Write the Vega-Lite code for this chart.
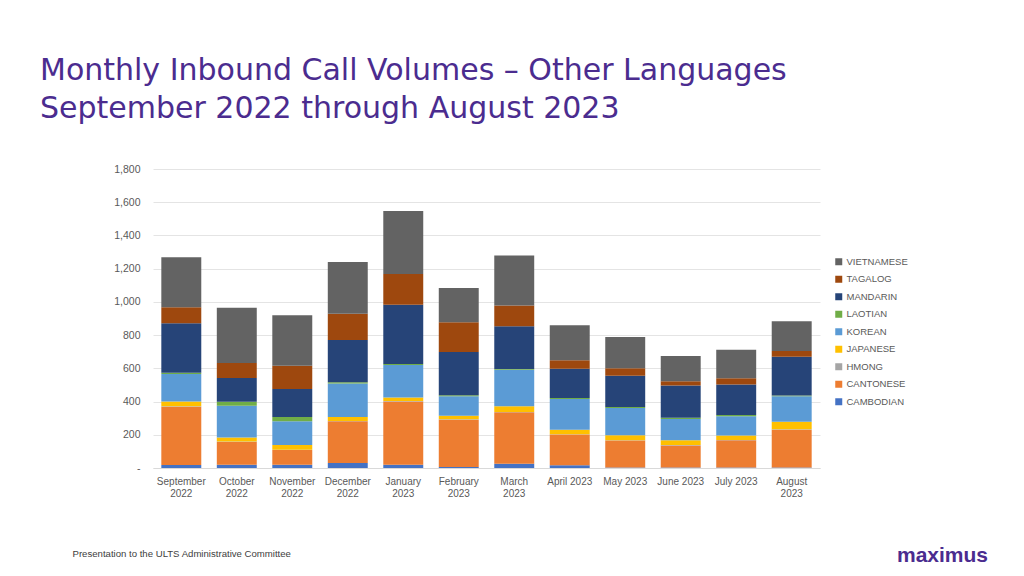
{
  "$schema": "https://vega.github.io/schema/vega-lite/v6.json",
  "background": "white",
  "padding": {"left": 40, "top": 56, "right": 10, "bottom": 5},
  "title": {
    "text": ["Monthly Inbound Call Volumes – Other Languages", "September 2022 through August 2023"],
    "anchor": "start",
    "frame": "bounds",
    "font": "DejaVu Sans",
    "fontSize": 30,
    "fontWeight": "normal",
    "color": "#4B2C8F",
    "lineHeight": 38,
    "offset": 40,
    "dx": -32
  },
  "config": {
    "view": {"stroke": null},
    "font": "Liberation Sans"
  },
  "vconcat": [
    {
      "width": 667,
      "height": 299,
      "title": {
        "text": "maximus",
        "orient": "bottom",
        "anchor": "end",
        "font": "Liberation Sans",
        "fontSize": 21,
        "fontWeight": "bold",
        "color": "#4B2C8F",
        "offset": 0,
        "dx": 168,
        "dy": -13
      },
      "data": {
        "values": [
          {"month": "September 2022", "language": "CAMBODIAN", "calls": 18},
          {"month": "September 2022", "language": "CANTONESE", "calls": 351},
          {"month": "September 2022", "language": "HMONG", "calls": 2},
          {"month": "September 2022", "language": "JAPANESE", "calls": 30},
          {"month": "September 2022", "language": "KOREAN", "calls": 165},
          {"month": "September 2022", "language": "LAOTIAN", "calls": 8},
          {"month": "September 2022", "language": "MANDARIN", "calls": 297},
          {"month": "September 2022", "language": "TAGALOG", "calls": 96},
          {"month": "September 2022", "language": "VIETNAMESE", "calls": 301},
          {"month": "October 2022", "language": "CAMBODIAN", "calls": 20},
          {"month": "October 2022", "language": "CANTONESE", "calls": 137},
          {"month": "October 2022", "language": "HMONG", "calls": 2},
          {"month": "October 2022", "language": "JAPANESE", "calls": 24},
          {"month": "October 2022", "language": "KOREAN", "calls": 192},
          {"month": "October 2022", "language": "LAOTIAN", "calls": 24},
          {"month": "October 2022", "language": "MANDARIN", "calls": 143},
          {"month": "October 2022", "language": "TAGALOG", "calls": 90},
          {"month": "October 2022", "language": "VIETNAMESE", "calls": 333},
          {"month": "November 2022", "language": "CAMBODIAN", "calls": 20},
          {"month": "November 2022", "language": "CANTONESE", "calls": 88},
          {"month": "November 2022", "language": "HMONG", "calls": 2},
          {"month": "November 2022", "language": "JAPANESE", "calls": 28},
          {"month": "November 2022", "language": "KOREAN", "calls": 143},
          {"month": "November 2022", "language": "LAOTIAN", "calls": 26},
          {"month": "November 2022", "language": "MANDARIN", "calls": 169},
          {"month": "November 2022", "language": "TAGALOG", "calls": 140},
          {"month": "November 2022", "language": "VIETNAMESE", "calls": 303},
          {"month": "December 2022", "language": "CAMBODIAN", "calls": 30},
          {"month": "December 2022", "language": "CANTONESE", "calls": 251},
          {"month": "December 2022", "language": "HMONG", "calls": 2},
          {"month": "December 2022", "language": "JAPANESE", "calls": 24},
          {"month": "December 2022", "language": "KOREAN", "calls": 201},
          {"month": "December 2022", "language": "LAOTIAN", "calls": 8},
          {"month": "December 2022", "language": "MANDARIN", "calls": 255},
          {"month": "December 2022", "language": "TAGALOG", "calls": 158},
          {"month": "December 2022", "language": "VIETNAMESE", "calls": 311},
          {"month": "January 2023", "language": "CAMBODIAN", "calls": 20},
          {"month": "January 2023", "language": "CANTONESE", "calls": 381},
          {"month": "January 2023", "language": "HMONG", "calls": 2},
          {"month": "January 2023", "language": "JAPANESE", "calls": 22},
          {"month": "January 2023", "language": "KOREAN", "calls": 195},
          {"month": "January 2023", "language": "LAOTIAN", "calls": 6},
          {"month": "January 2023", "language": "MANDARIN", "calls": 357},
          {"month": "January 2023", "language": "TAGALOG", "calls": 185},
          {"month": "January 2023", "language": "VIETNAMESE", "calls": 379},
          {"month": "February 2023", "language": "CAMBODIAN", "calls": 6},
          {"month": "February 2023", "language": "CANTONESE", "calls": 285},
          {"month": "February 2023", "language": "HMONG", "calls": 2},
          {"month": "February 2023", "language": "JAPANESE", "calls": 22},
          {"month": "February 2023", "language": "KOREAN", "calls": 117},
          {"month": "February 2023", "language": "LAOTIAN", "calls": 6},
          {"month": "February 2023", "language": "MANDARIN", "calls": 260},
          {"month": "February 2023", "language": "TAGALOG", "calls": 179},
          {"month": "February 2023", "language": "VIETNAMESE", "calls": 207},
          {"month": "March 2023", "language": "CAMBODIAN", "calls": 26},
          {"month": "March 2023", "language": "CANTONESE", "calls": 309},
          {"month": "March 2023", "language": "HMONG", "calls": 2},
          {"month": "March 2023", "language": "JAPANESE", "calls": 34},
          {"month": "March 2023", "language": "KOREAN", "calls": 221},
          {"month": "March 2023", "language": "LAOTIAN", "calls": 4},
          {"month": "March 2023", "language": "MANDARIN", "calls": 257},
          {"month": "March 2023", "language": "TAGALOG", "calls": 126},
          {"month": "March 2023", "language": "VIETNAMESE", "calls": 301},
          {"month": "April 2023", "language": "CAMBODIAN", "calls": 16},
          {"month": "April 2023", "language": "CANTONESE", "calls": 185},
          {"month": "April 2023", "language": "HMONG", "calls": 2},
          {"month": "April 2023", "language": "JAPANESE", "calls": 28},
          {"month": "April 2023", "language": "KOREAN", "calls": 184},
          {"month": "April 2023", "language": "LAOTIAN", "calls": 6},
          {"month": "April 2023", "language": "MANDARIN", "calls": 177},
          {"month": "April 2023", "language": "TAGALOG", "calls": 50},
          {"month": "April 2023", "language": "VIETNAMESE", "calls": 211},
          {"month": "May 2023", "language": "CAMBODIAN", "calls": 3},
          {"month": "May 2023", "language": "CANTONESE", "calls": 162},
          {"month": "May 2023", "language": "HMONG", "calls": 2},
          {"month": "May 2023", "language": "JAPANESE", "calls": 30},
          {"month": "May 2023", "language": "KOREAN", "calls": 164},
          {"month": "May 2023", "language": "LAOTIAN", "calls": 6},
          {"month": "May 2023", "language": "MANDARIN", "calls": 189},
          {"month": "May 2023", "language": "TAGALOG", "calls": 44},
          {"month": "May 2023", "language": "VIETNAMESE", "calls": 189},
          {"month": "June 2023", "language": "CAMBODIAN", "calls": 3},
          {"month": "June 2023", "language": "CANTONESE", "calls": 133},
          {"month": "June 2023", "language": "HMONG", "calls": 2},
          {"month": "June 2023", "language": "JAPANESE", "calls": 29},
          {"month": "June 2023", "language": "KOREAN", "calls": 128},
          {"month": "June 2023", "language": "LAOTIAN", "calls": 8},
          {"month": "June 2023", "language": "MANDARIN", "calls": 193},
          {"month": "June 2023", "language": "TAGALOG", "calls": 26},
          {"month": "June 2023", "language": "VIETNAMESE", "calls": 152},
          {"month": "July 2023", "language": "CAMBODIAN", "calls": 3},
          {"month": "July 2023", "language": "CANTONESE", "calls": 164},
          {"month": "July 2023", "language": "HMONG", "calls": 2},
          {"month": "July 2023", "language": "JAPANESE", "calls": 26},
          {"month": "July 2023", "language": "KOREAN", "calls": 116},
          {"month": "July 2023", "language": "LAOTIAN", "calls": 8},
          {"month": "July 2023", "language": "MANDARIN", "calls": 183},
          {"month": "July 2023", "language": "TAGALOG", "calls": 38},
          {"month": "July 2023", "language": "VIETNAMESE", "calls": 172},
          {"month": "August 2023", "language": "CAMBODIAN", "calls": 3},
          {"month": "August 2023", "language": "CANTONESE", "calls": 228},
          {"month": "August 2023", "language": "HMONG", "calls": 2},
          {"month": "August 2023", "language": "JAPANESE", "calls": 46},
          {"month": "August 2023", "language": "KOREAN", "calls": 153},
          {"month": "August 2023", "language": "LAOTIAN", "calls": 4},
          {"month": "August 2023", "language": "MANDARIN", "calls": 234},
          {"month": "August 2023", "language": "TAGALOG", "calls": 34},
          {"month": "August 2023", "language": "VIETNAMESE", "calls": 179}
        ]
      },
      "mark": {"type": "bar"},
      "encoding": {
        "x": {
          "field": "month",
          "type": "nominal",
          "sort": ["September 2022", "October 2022", "November 2022", "December 2022", "January 2023", "February 2023", "March 2023", "April 2023", "May 2023", "June 2023", "July 2023", "August 2023"],
          "scale": {"paddingInner": 0.28, "paddingOuter": 0.15},
          "axis": {
            "title": "Presentation to the ULTS Administrative Committee",
            "titleAnchor": "start",
            "titleAlign": "left",
            "titleBaseline": "alphabetic",
            "titleX": -81,
            "titleY": 88,
            "titleFontSize": 9.6,
            "titleFontWeight": "normal",
            "titleColor": "#404040",
            "labelAngle": 0,
            "labelExpr": "indexof(['April 2023','May 2023','June 2023','July 2023'], datum.value) >= 0 ? datum.value : split(datum.value, ' ')",
            "labelFontSize": 10,
            "labelColor": "#595959",
            "labelLineHeight": 12,
            "labelPadding": 8,
            "ticks": false,
            "domainColor": "#d9d9d9"
          }
        },
        "y": {
          "field": "calls",
          "type": "quantitative",
          "stack": "zero",
          "scale": {"domain": [0, 1800], "nice": false},
          "axis": {
            "title": null,
            "values": [0, 200, 400, 600, 800, 1000, 1200, 1400, 1600, 1800],
            "labelExpr": "datum.value == 0 ? '-' : format(datum.value, ',')",
            "labelFontSize": 10.5,
            "labelColor": "#595959",
            "labelPadding": 13,
            "domain": false,
            "ticks": false,
            "gridColor": "#e4e4e4"
          }
        },
        "color": {
          "field": "language",
          "type": "nominal",
          "scale": {
            "domain": ["VIETNAMESE", "TAGALOG", "MANDARIN", "LAOTIAN", "KOREAN", "JAPANESE", "HMONG", "CANTONESE", "CAMBODIAN"],
            "range": ["#636363", "#9E480E", "#264478", "#70AD47", "#5B9BD5", "#FFC000", "#A5A5A5", "#ED7D31", "#4472C4"]
          },
          "legend": {
            "title": null,
            "orient": "none",
            "legendX": 681,
            "legendY": 88,
            "symbolType": "square",
            "symbolSize": 49,
            "symbolStrokeWidth": 0,
            "labelFontSize": 9.5,
            "labelColor": "#595959",
            "labelOffset": 3,
            "rowPadding": 6.5,
            "padding": 0
          }
        },
        "order": {"field": "language", "type": "ordinal", "sort": "ascending"}
      }
    }
  ]
}
